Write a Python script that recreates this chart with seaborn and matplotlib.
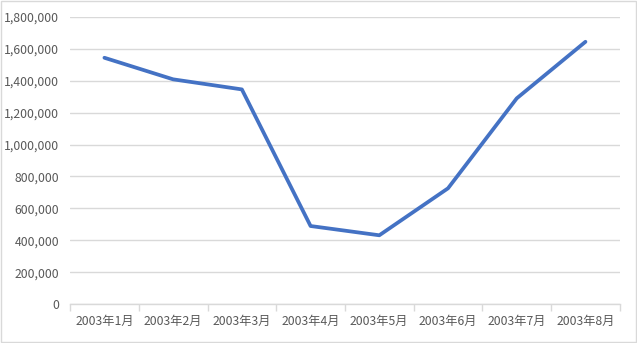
import matplotlib
matplotlib.use("Agg")
import matplotlib.pyplot as plt
import seaborn as sns
import pandas as pd
from matplotlib.ticker import FuncFormatter, FixedLocator
from matplotlib.patches import Rectangle

categories = ["2003年1月", "2003年2月", "2003年3月", "2003年4月",
              "2003年5月", "2003年6月", "2003年7月", "2003年8月"]
values = [1543000, 1408000, 1345000, 490000, 432000, 726000, 1289000, 1643000]
y_ticks = [0, 200000, 400000, 600000, 800000, 1000000, 1200000, 1400000, 1600000, 1800000]

sns.set_theme(style="white")
plt.rcParams['font.family'] = ['Noto Sans CJK JP', 'DejaVu Sans']

df = pd.DataFrame({"month": categories, "value": values})

fig = plt.figure(figsize=(6.37, 3.43), dpi=100)
ax = fig.add_axes([0.110, 0.1128, 0.863, 0.8385])

sns.lineplot(data=df, x="month", y="value", ax=ax, color="#4472C4",
             linewidth=2.7, sort=False)

ax.set_xlim(-0.5, len(categories) - 0.5)
ax.set_ylim(0, 1800000)
ax.set_yticks(y_ticks)
ax.yaxis.set_major_formatter(FuncFormatter(lambda v, p: f"{int(v):,}"))
ax.grid(axis="y", color="#D9D9D9", linewidth=1)
ax.set_axisbelow(True)

ax.set_xticks(range(len(categories)))
ax.set_xticklabels(categories)
ax.xaxis.set_minor_locator(FixedLocator([i - 0.5 for i in range(len(categories) + 1)]))
ax.tick_params(axis="x", which="major", length=0, pad=8, labelsize=8.8, labelcolor="#595959")
ax.tick_params(axis="x", which="minor", length=5, width=1, color="#D9D9D9", bottom=True)
ax.tick_params(axis="y", length=0, pad=8, labelsize=8.8, labelcolor="#595959")

for s in ["left", "top", "right"]:
    ax.spines[s].set_visible(False)
ax.spines["bottom"].set_color("#D9D9D9")
ax.spines["bottom"].set_linewidth(1)

ax.set_xlabel("")
ax.set_ylabel("")

fig.patches.append(Rectangle((0.001, 0.002), 0.997, 0.995, transform=fig.transFigure,
                             fill=False, edgecolor="#D9D9D9", linewidth=1))

fig.savefig("out.png", dpi=100)
